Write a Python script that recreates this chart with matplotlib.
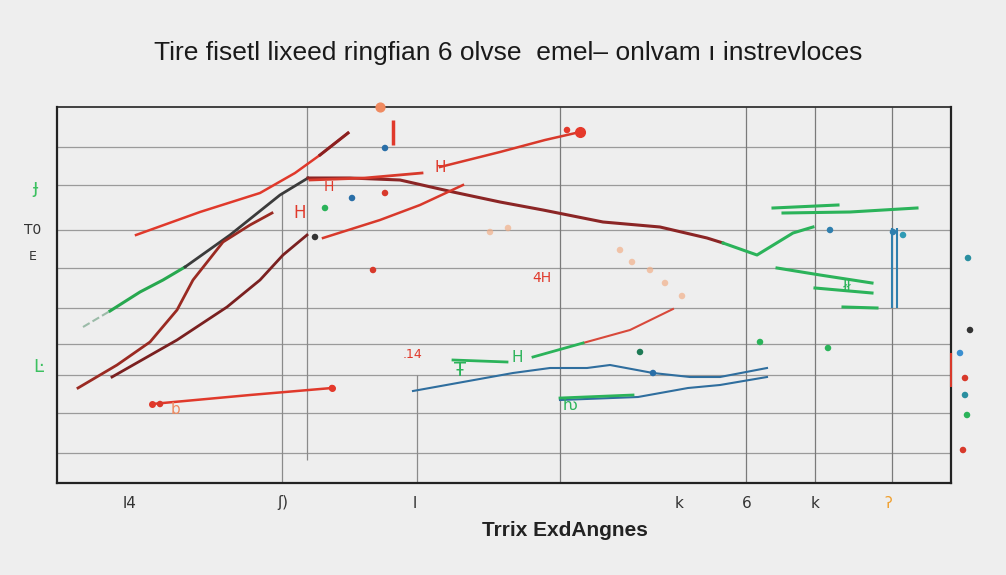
import matplotlib
matplotlib.use("Agg")
import matplotlib.pyplot as plt

# ---- data (x/y in chart units) ----
title = "Tire fisetl lixeed ringfian 6 olvse  emel\u2013 onlvam ı instrevloces"
xlabel = "Trrix ExdAngnes"
xtick_pos = [73, 226, 358, 622, 690, 758, 831]
xtick_labels = ["l4", "ʃ)", "l", "k", "6", "k", "ʔ"]

grid_y = [30, 70, 108, 139, 175, 215, 253, 298, 336]

red_upper_x = [79, 143, 203, 238, 263, 291]
red_upper_y = [248, 271, 290, 310, 328, 350]

trend_green_x = [53, 83, 106, 128]
trend_green_y = [172, 191, 203, 216]
trend_dark_x = [128, 173, 223, 251]
trend_dark_y = [216, 248, 288, 305]
trend_maroon_x = [251, 293, 343, 396, 443, 486, 546, 603, 650, 666]
trend_maroon_y = [305, 305, 303, 291, 281, 273, 261, 256, 245, 240]
trend_tail_x = [666, 700, 736, 756]
trend_tail_y = [240, 228, 250, 256]

maroon_a_x = [21, 60, 93, 120, 136, 166, 193, 215]
maroon_a_y = [95, 118, 141, 173, 203, 241, 258, 270]
maroon_b_x = [55, 120, 170, 203, 226, 250]
maroon_b_y = [106, 143, 176, 203, 228, 248]
red_b_x = [266, 323, 363, 406]
red_b_y = [245, 263, 278, 298]

red_top_x = [383, 443, 488, 523]
red_top_y = [316, 331, 343, 351]
red_flat_x = [253, 308, 365]
red_flat_y = [303, 305, 310]
red_low_x = [95, 193, 275]
red_low_y = [79, 88, 95]
red_mid_x = [526, 573, 616]
red_mid_y = [140, 153, 174]

blue_up_x = [356, 456, 493, 530, 553, 596, 633, 663, 710]
blue_up_y = [92, 110, 115, 115, 118, 110, 106, 106, 115]
blue_low_x = [503, 581, 631, 663, 710]
blue_low_y = [83, 86, 95, 98, 106]

green_mid_x = [396, 450]
green_mid_y = [123, 121]
green_mid2_x = [476, 526]
green_mid2_y = [126, 140]
green_low_x = [503, 576]
green_low_y = [85, 88]

green_r1_x = [716, 781]
green_r1_y = [275, 278]
green_r2_x = [726, 793, 860]
green_r2_y = [270, 271, 275]
green_r3_x = [720, 763, 815]
green_r3_y = [215, 208, 200]
green_r4_x = [758, 815]
green_r4_y = [195, 190]
green_r5_x = [786, 820]
green_r5_y = [176, 175]

orange_x = [563, 575, 593, 608, 625, 433, 451]
orange_y = [233, 221, 213, 200, 187, 251, 255]

dot_x = [328, 316, 328, 295, 268, 258, 596, 583, 703, 771, 510, 773, 836, 846, 103, 275]
dot_y = [335, 213, 290, 285, 275, 246, 110, 131, 141, 135, 353, 253, 251, 248, 79, 95]
dot_c = ["#2a6fa8", "#d8392b", "#d8392b", "#2a6fa8", "#2bb35a", "#333333",
         "#2a6fa8", "#1e7a55", "#2bb35a", "#2bb35a", "#e5392b", "#2f7fae",
         "#2f7fae", "#2f9bb5", "#d8392b", "#e5392b"]

out_x = [911, 913, 903, 908, 908, 910, 906]
out_y = [225, 153, 130, 105, 88, 68, 33]
out_c = ["#2a8fa0", "#333333", "#3a8fd0", "#d8392b", "#2a8fa0", "#2bb35a", "#d8392b"]

# ---- plot ----
BG = "#eeeeee"
fig = plt.figure(figsize=(10.06, 5.75), dpi=100, facecolor=BG)
ax = fig.add_axes([57 / 1006, 1 - 483 / 575, 894 / 1006, 376 / 575])
ax.set_facecolor(BG)
ax.set_xlim(0, 894)
ax.set_ylim(0, 376)

# grid
for gy in grid_y:
    ax.axhline(gy, color="#9a9a9a", lw=0.9, zorder=1)
ax.vlines(225, 0, 291, color="#8a8a8a", lw=0.9, zorder=1)
ax.vlines(250, 23, 376, color="#8a8a8a", lw=0.9, zorder=1)
ax.vlines(360, 0, 108, color="#8a8a8a", lw=0.9, zorder=1)
for gx in [503, 689, 758, 835]:
    ax.vlines(gx, 0, 376, color="#7a7a7a", lw=0.9, zorder=1)

for s in ax.spines.values():
    s.set_color("#222222")
    s.set_linewidth(1.6)
ax.spines["top"].set_linewidth(1.2)

ax.set_yticks([])
ax.set_xticks(xtick_pos)
ax.set_xticklabels(xtick_labels, fontsize=11, color="#333333")
ax.tick_params(axis="x", length=0, pad=9)
ax.get_xticklabels()[-1].set_color("#f0a030")

# lines
ax.plot(red_upper_x, red_upper_y, color="#e0392b", lw=1.8, zorder=3)
ax.plot(red_upper_x[-2:], red_upper_y[-2:], color="#8b2020", lw=2.2, zorder=3)
ax.plot([26, 53], [156, 172], color="#9bbba8", lw=1.5, ls="--", zorder=3)
ax.plot(trend_green_x, trend_green_y, color="#27a84f", lw=2.2, zorder=3)
ax.plot(trend_dark_x, trend_dark_y, color="#3b3b3b", lw=2.0, zorder=3)
ax.plot(trend_maroon_x, trend_maroon_y, color="#8b2525", lw=2.2, zorder=3)
ax.plot(trend_tail_x, trend_tail_y, color="#2bb35a", lw=2.2, zorder=3)
ax.plot(maroon_a_x, maroon_a_y, color="#9a2a22", lw=2.0, zorder=3)
ax.plot(maroon_b_x, maroon_b_y, color="#7a2020", lw=2.0, zorder=3)
ax.plot(red_b_x, red_b_y, color="#d8392b", lw=1.8, zorder=3)
ax.plot(red_top_x, red_top_y, color="#d8392b", lw=1.8, zorder=3)
ax.plot(red_top_x[-1], red_top_y[-1], "o", color="#e5392b", ms=7, zorder=4)
ax.plot(red_flat_x, red_flat_y, color="#d8392b", lw=2.0, zorder=3)
ax.plot(red_low_x, red_low_y, color="#e0392b", lw=1.8, marker="o", ms=4,
        markevery=[0, 2], zorder=3)
ax.plot(red_mid_x, red_mid_y, color="#d8493b", lw=1.5, zorder=3)
ax.plot(blue_up_x, blue_up_y, color="#2f6e9e", lw=1.5, zorder=3)
ax.plot(blue_low_x, blue_low_y, color="#2f6e9e", lw=1.5, zorder=3)
ax.plot(green_mid_x, green_mid_y, color="#2bb35a", lw=2.0, zorder=3)
ax.plot(green_mid2_x, green_mid2_y, color="#2bb35a", lw=2.0, zorder=3)
ax.plot(green_low_x, green_low_y, color="#2bb35a", lw=2.0, zorder=3)
for gx, gy in [(green_r1_x, green_r1_y), (green_r2_x, green_r2_y),
               (green_r3_x, green_r3_y), (green_r4_x, green_r4_y),
               (green_r5_x, green_r5_y)]:
    ax.plot(gx, gy, color="#2bb35a", lw=2.2, zorder=3)
ax.vlines([835, 840], 175, 255, color="#2f7fae", lw=1.5, zorder=3)
ax.vlines(336, 338, 363, color="#e0392b", lw=2.5, zorder=3)

ax.scatter(orange_x, orange_y, s=22, color="#f2b08a", alpha=0.7, zorder=2,
           edgecolors="none")
ax.scatter(dot_x, dot_y, s=22, c=dot_c, zorder=4, edgecolors="none")
ax.scatter(out_x, out_y, s=22, c=out_c, zorder=4, edgecolors="none",
           clip_on=False)
ax.scatter([323], [376], s=40, color="#f08a60", zorder=4, clip_on=False)
ax.vlines(894, 96, 130, color="#d8392b", lw=1.5, clip_on=False, zorder=4)

# scribbled marks
ax.text(383, 316, "H", color="#e0392b", fontsize=11, ha="center", va="center")
ax.text(485, 205, "4H", color="#e0392b", fontsize=10, ha="center", va="center")
ax.text(355, 128, ".14", color="#e0392b", fontsize=9, ha="center", va="center")
ax.text(243, 270, "H", color="#e0392b", fontsize=12, ha="center", va="center")
ax.text(272, 296, "H", color="#e0392b", fontsize=10, ha="center", va="center")
ax.text(460, 125, "H", color="#2bb35a", fontsize=11, ha="center", va="center")
ax.text(403, 112, "Ŧ", color="#2bb35a", fontsize=14, ha="center", va="center")
ax.text(513, 78, "ƕ", color="#2bb35a", fontsize=11, ha="center", va="center")
ax.text(790, 195, "łł", color="#2bb35a", fontsize=11, ha="center", va="center")
ax.text(118, 74, "b", color="#f08a60", fontsize=11, ha="center", va="center")

fig.text(565 / 1006, 1 - 530 / 575, xlabel, ha="center", va="center",
         fontsize=15, fontweight="bold", color="#222222",
         family="Liberation Sans")

fig.text(508 / 1006, 1 - 53 / 575, title, ha="center", va="center",
         fontsize=19, color="#1a1a1a", family="Liberation Sans")

fig.text(33 / 1006, 1 - 230 / 575, "T0", fontsize=10, color="#333333",
         ha="center", va="center")
fig.text(33 / 1006, 1 - 256 / 575, "E", fontsize=9, color="#333333",
         ha="center", va="center")
fig.text(35 / 1006, 1 - 188 / 575, "ɟ", fontsize=14, color="#3cc060",
         ha="center", va="center")
fig.text(38 / 1006, 1 - 367 / 575, "Ŀ", fontsize=13, color="#3cc060",
         ha="center", va="center")

fig.savefig("out.png", dpi=100, facecolor=BG)
